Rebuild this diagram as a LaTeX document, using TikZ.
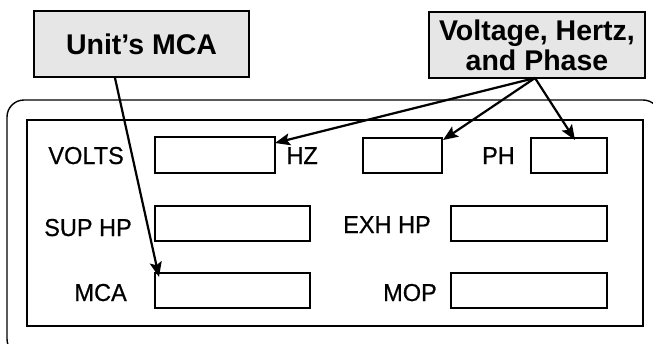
\documentclass[tikz,border=0pt]{standalone}
\usepackage{fontspec}
\setmainfont{Liberation Sans}
\newfontfamily\lblfont[FakeStretch=0.96,FakeBold=0.6]{Liberation Sans}
\usetikzlibrary{arrows.meta}
\definecolor{calloutgray}{HTML}{E6E6E6}
\tikzset{
  field/.style={draw, line width=1.8pt, inner sep=0pt},
  lbl/.style={font=\lblfont\fontsize{24.5}{28}\selectfont, inner sep=0pt},
  callout/.style={draw, line width=2.2pt, fill=calloutgray, font=\bfseries\fontsize{28.5}{30}\selectfont, inner sep=0pt, align=center},
  pointer/.style={line width=2.2pt, -{Stealth[length=15pt,width=12pt,inset=3pt]}}
}
\begin{document}
\begin{tikzpicture}[x=1pt,y=-1pt]
\useasboundingbox (0,0) rectangle (653,343);
\begin{scope}
\clip (0,0) rectangle (653,343);
\draw[line width=1.4pt, rounded corners=17pt] (7,100) rectangle (660,356);
\end{scope}
\draw[line width=2.2pt] (27,120) rectangle (643,326);
% fields
\node[field, minimum width=120pt, minimum height=36pt] (voltsbox) at (215,155) {};
\node[field, minimum width=79pt, minimum height=35pt] (hzbox) at (402.5,155.5) {};
\node[field, minimum width=76pt, minimum height=35pt] (phbox) at (569,155.5) {};
\node[field, minimum width=155pt, minimum height=35pt] (supbox) at (232.5,223.5) {};
\node[field, minimum width=156pt, minimum height=35pt] (exhbox) at (529,223.5) {};
\node[field, minimum width=155pt, minimum height=35pt] (mcabox) at (232.5,290.5) {};
\node[field, minimum width=156pt, minimum height=35pt] (mopbox) at (529,290.5) {};
% labels
\node[lbl, anchor=base east] (volts) at (124,164) {VOLTS};
\node[lbl, anchor=base east] (hz) at (318,164) {HZ};
\node[lbl, anchor=base east] (ph) at (515,164) {PH};
\node[lbl, anchor=base east] (sup) at (132,236) {SUP HP};
\node[lbl, anchor=base east] (mca) at (127,301) {MCA};
\node[lbl, anchor=base east] (exh) at (431,233) {EXH HP};
\node[lbl, anchor=base east] (mop) at (437,301) {MOP};
% callouts
\node[callout, minimum width=215pt, minimum height=66pt] (unitmca) at (141.5,44) {Unit’s MCA};
\node[callout, minimum width=216pt, minimum height=66pt] (vhp) at (537,45) {Voltage, Hertz,\\and Phase};
% pointers
\coordinate (mcatip) at (159,277);
\coordinate (voltstip) at (275,143);
\coordinate (hztip) at (443,140);
\coordinate (phtip) at (575,140);
\coordinate (vsrc) at (535,78);
\coordinate (msrc) at (115,78);
\draw[pointer] (msrc) -- (mcatip);
\draw[pointer] (vsrc) -- (voltstip);
\draw[pointer] (vsrc) -- (hztip);
\draw[pointer] (vsrc) -- (phtip);
\end{tikzpicture}
\end{document}
